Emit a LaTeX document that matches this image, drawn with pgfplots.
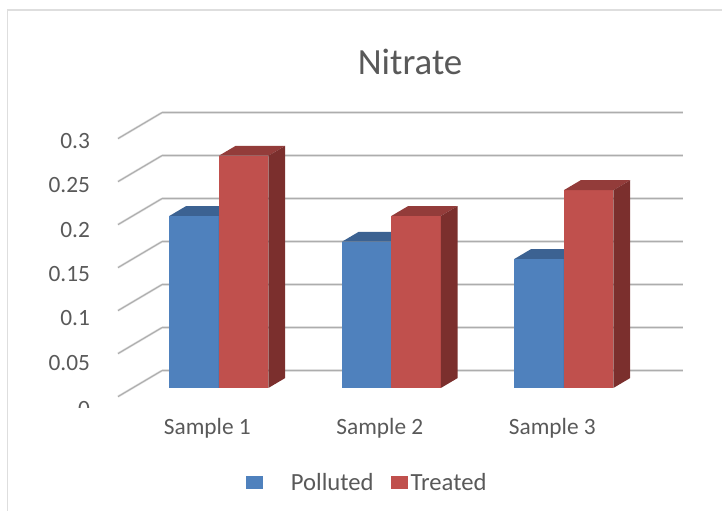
\documentclass[border=0pt]{standalone}
\usepackage{fontspec}
\setmainfont{Carlito}
\usepackage{pgfplots}
\pgfplotsset{compat=1.18}
\definecolor{txt}{HTML}{595959}
\definecolor{bluef}{HTML}{4F81BD}
\definecolor{bluet}{HTML}{3C6292}
\definecolor{blues}{HTML}{2F4D73}
\definecolor{redf}{HTML}{C0504D}
\definecolor{redt}{HTML}{933C3A}
\definecolor{reds}{HTML}{7B2F2D}
% one bar: x left, x right, value, front, top and side colours
\newcommand{\onebar}[6]{%
  \addplot3[fill=#4,draw=none,forget plot] coordinates {(#1,0.334,0) (#2,0.334,0) (#2,0.334,#3) (#1,0.334,#3)};
  \addplot3[fill=#5,draw=none,forget plot] coordinates {(#1,0.334,#3) (#2,0.334,#3) (#2,0.715,#3) (#1,0.715,#3)};
  \addplot3[fill=#6,draw=none,forget plot] coordinates {(#2,0.334,0) (#2,0.715,0) (#2,0.715,#3) (#2,0.334,#3)};
}
\newcommand{\tl}[2]{\smash{\raisebox{#1}{#2}}}
\begin{document}
\begin{tikzpicture}
  % 1 px = 0.75 pt
  \path[use as bounding box] (0,0) rectangle (541.5pt,383.25pt);
  \draw[draw=black!13,line width=1.2pt] (5.5pt,0) -- (5.5pt,375.6pt) -- (541.5pt,375.6pt);
  \begin{axis}[
    at={(88.5pt,85.8pt)}, anchor=origin,
    x={(129.375pt,0pt)}, y={(33pt,19.5pt)}, z={(0pt,645pt)},
    xmin=0.5, xmax=3.52, ymin=0, ymax=1, zmin=0, zmax=0.3,
    clip=false,
    axis line style={draw=none},
    major tick length=0pt,
    xtick={1,2,3}, xticklabels={Sample 1,Sample 2,Sample 3},
    ytick=\empty,
    ztick={0,0.05,0.1,0.15,0.2,0.25,0.3},
    zticklabels={\tl{-15pt}{0},\tl{-12.5pt}{0.05},\tl{-11.5pt}{0.1},\tl{-10.5pt}{0.15},\tl{-9.5pt}{0.2},\tl{-8.5pt}{0.25},\tl{-7.5pt}{0.3}},
    zmajorgrids,
    grid style={draw=black!12,double=black!32,double distance=0.8pt,line width=0.45pt},
    tick label style={font=\fontsize{17.5pt}{20pt}\selectfont,text=txt},
    x tick label style={xshift=8.6pt,yshift=-12.75pt},
    z tick label style={anchor=east,xshift=-17.5pt},
    title=Nitrate,
    title style={font=\fontsize{27.7pt}{30pt}\selectfont,text=txt,at={(0.517,1.149)},anchor=center},
    legend style={draw=none,fill=none,at={(0.442,-0.303)},anchor=center,font=\fontsize{18.5pt}{20pt}\selectfont,text=txt,legend columns=2,
      /tikz/column 2/.style={column sep=11.25pt}},
    legend image code/.code={\fill[#1] (0pt,-4.8pt) rectangle (12.5pt,4.8pt);},
  ]
    \onebar{0.713}{1}{0.2}{bluef}{bluet}{blues}
    \onebar{1}{1.287}{0.27}{redf}{redt}{reds}
    \onebar{1.713}{2}{0.17}{bluef}{bluet}{blues}
    \onebar{2}{2.287}{0.2}{redf}{redt}{reds}
    \onebar{2.713}{3}{0.15}{bluef}{bluet}{blues}
    \onebar{3}{3.287}{0.23}{redf}{redt}{reds}
    \addlegendimage{fill=bluef,draw=none}
    \addlegendentry{\hspace{19pt}Polluted}
    \addlegendimage{fill=redf,draw=none}
    \addlegendentry{Treated}
  \end{axis}
  % the lower part of the 0 label is cut off in the original
  \fill[white] (55pt,66pt) rectangle (80pt,77.25pt);
\end{tikzpicture}
\end{document}
